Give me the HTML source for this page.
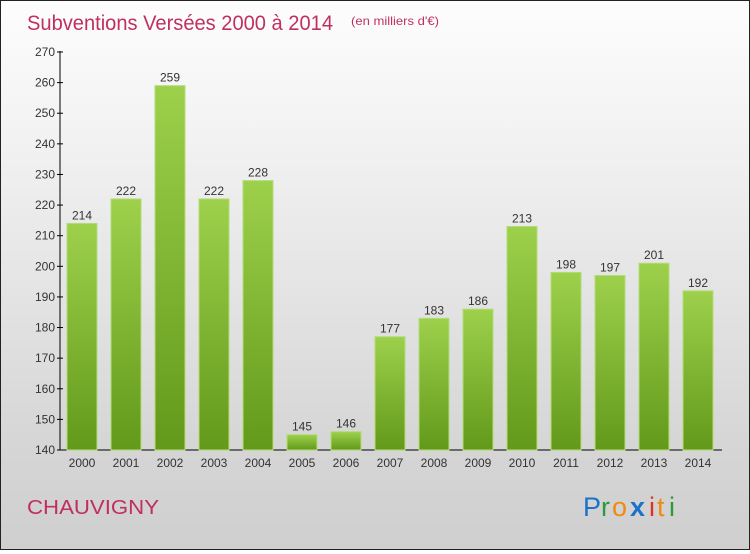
<!DOCTYPE html>
<html><head><meta charset="utf-8"><style>
html,body{margin:0;padding:0}
body{width:750px;height:550px;overflow:hidden;font-family:"Liberation Sans",sans-serif}
#wrap{position:relative;width:748px;height:548px;border:1px solid #222;background:linear-gradient(#fdfdfd,#f2f2f2 25%,#d6d6d6 80%,#cfcfcf)}
</style></head><body>
<div id="wrap">
<svg id="chart" width="748" height="548">
<defs><linearGradient id="g" x1="0" y1="0" x2="0" y2="1"><stop offset="0" stop-color="#9dd14c"/><stop offset="1" stop-color="#63991a"/></linearGradient></defs>
<text x="26" y="29" font-size="21" fill="#c0305e" textLength="306" lengthAdjust="spacingAndGlyphs">Subventions Versées 2000 à 2014</text>
<text x="350" y="24" font-size="12" fill="#c0305e" textLength="88" lengthAdjust="spacingAndGlyphs">(en milliers d'€)</text>
<text x="26" y="513" font-size="20" fill="#c0305e" textLength="132" lengthAdjust="spacingAndGlyphs">CHAUVIGNY</text>
<g font-size="27" font-family="'Liberation Sans',sans-serif">
<text x="582" y="515" fill="#1a73c9">P</text><text x="600" y="515" fill="#2c9a3a">r</text><text x="611" y="515" fill="#f08a10">o</text><text x="629" y="515" fill="#1a73c9" font-weight="bold">x</text><text x="648" y="515" fill="#e03020">i</text><text x="656" y="515" fill="#f08a10">t</text><text x="668" y="515" fill="#2c9a3a">i</text>
</g>
<g id="plot"></g>
</svg>
</div>
<script>
const years=["2000","2001","2002","2003","2004","2005","2006","2007","2008","2009","2010","2011","2012","2013","2014"];
const values=[214,222,259,222,228,145,146,177,183,186,213,198,197,201,192];
const ticks=[140,150,160,170,180,190,200,210,220,230,240,250,260,270];
const NS="http://www.w3.org/2000/svg";
const g=document.getElementById('plot');
const y=v=>449-(v-140)*(398/130);
const x=i=>81+i*44;
function el(t,a){const e=document.createElementNS(NS,t);for(const k in a)e.setAttribute(k,a[k]);g.appendChild(e);return e;}
const ax=el('line',{x1:59,y1:50,x2:59,y2:449,stroke:'#000'});


const bx=el('line',{x1:59,y1:449,x2:721,y2:449,stroke:'#000'});


ticks.forEach(t=>{
 el('line',{x1:56,x2:62,y1:y(t),y2:y(t),stroke:'#000'});
 const tx=el('text',{x:54,y:y(t)+4,'text-anchor':'end','font-size':12,fill:'#333'});tx.textContent=t;
 
 
});
values.forEach((v,i)=>{
 const r=el('rect',{x:x(i)-15,y:y(v),width:30,height:449-y(v),fill:'url(#g)',stroke:'#b4dc78','stroke-width':1});
 
 
 const l=el('text',{x:x(i),y:y(v)-4,'text-anchor':'middle','font-size':12,fill:'#333'});l.textContent=v;
 
 
 const xl=el('text',{x:x(i),y:466,'text-anchor':'middle','font-size':12,fill:'#333'});xl.textContent=years[i];
 
 
});
</script>
</body></html>
